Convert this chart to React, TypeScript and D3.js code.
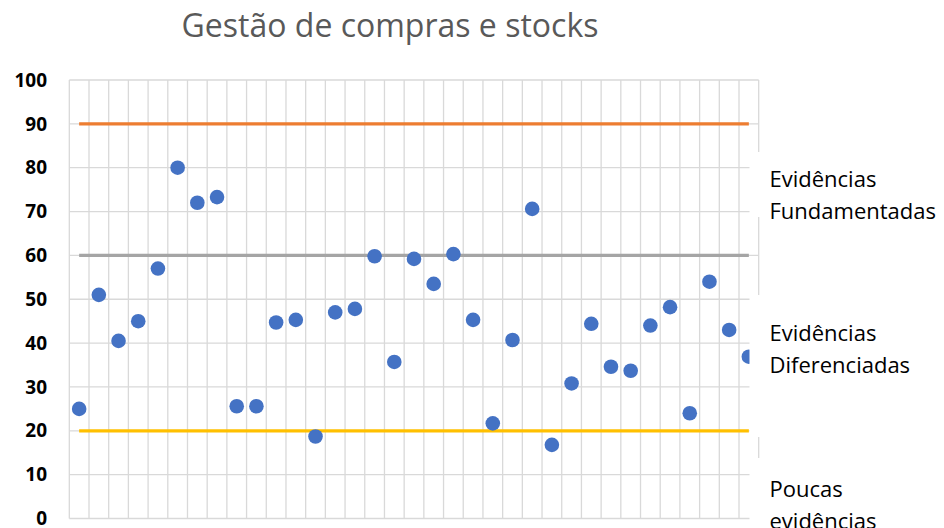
import React from "react";
import * as d3 from "d3";

const title = "Gestão de compras e stocks";
const scores = [
  25, 51, 40.5, 45, 57, 80, 72, 73.3, 25.6, 25.6, 44.7, 45.3, 18.7, 47, 47.8,
  59.8, 35.7, 59.2, 53.5, 60.3, 45.3, 21.7, 40.7, 70.6, 16.8, 30.8, 44.4, 34.6,
  33.7, 44, 48.2, 24, 54, 43, 36.9,
];
const categories = scores.map((_, i) => String(i + 1));
const thresholds = [
  { value: 90, color: "#ED7D31" },
  { value: 60, color: "#A5A5A5" },
  { value: 20, color: "#FFC000" },
];
const yTicks = [0, 10, 20, 30, 40, 50, 60, 70, 80, 90, 100];
const zoneLabels = [
  { lines: ["Evidências", "Fundamentadas"], top: 152, bottom: 217, baseline: 187.3 },
  { lines: ["Evidências", "Diferenciadas"], top: 295, bottom: 437, baseline: 341.3 },
  { lines: ["Poucas", "evidências"], top: 458, bottom: 540, baseline: 497 },
];

export default function App() {
  const W = 944;
  const H = 528;
  const left = 69.3;
  const right = 758.7;
  const top = 80;
  const bottom = 518.5;

  const x = d3.scaleBand<string>().domain(categories).range([left, right]).padding(0);
  const y = d3.scaleLinear().domain([0, 100]).range([bottom, top]);
  const cx = (i: number) => (x(categories[i]) as number) + x.bandwidth() / 2;
  const vLines = [...categories.map((c) => x(c) as number), right];
  const grid = "#D9D9D9";
  const font = "'Open Sans', 'Noto Sans', sans-serif";

  return (
    <svg
      width={W}
      height={H}
      style={{ position: "absolute", left: 0, top: 0, background: "#fff" }}
    >
      <rect x={0} y={0} width={W} height={H} fill="#fff" />
      <text
        x={390}
        y={37}
        textAnchor="middle"
        fontFamily={font}
        fontSize={32}
        fill="#595959"
      >
        {title}
      </text>
      {yTicks.map((t) => (
        <line key={"h" + t} x1={left} x2={right} y1={y(t)} y2={y(t)} stroke={grid} strokeWidth={1.3} />
      ))}
      {vLines.map((vx, i) => (
        <line key={"v" + i} x1={vx} x2={vx} y1={top} y2={bottom} stroke={grid} strokeWidth={1.3} />
      ))}
      {yTicks.map((t) => (
        <text
          key={"t" + t}
          x={47}
          y={y(t)}
          dy="0.35em"
          textAnchor="end"
          fontFamily={font}
          fontWeight={700}
          fontSize={19}
          fill="#000"
        >
          {t}
        </text>
      ))}
      {thresholds.map((th) => (
        <line
          key={"th" + th.value}
          x1={cx(0)}
          x2={cx(categories.length - 1)}
          y1={y(th.value)}
          y2={y(th.value)}
          stroke={th.color}
          strokeWidth={3.3}
        />
      ))}
      {scores.map((v, i) => (
        <circle key={"p" + i} cx={cx(i)} cy={y(v)} r={7.3} fill="#4472C4" />
      ))}
      {zoneLabels.map((z, i) => (
        <g key={"z" + i}>
          <rect x={749.5} y={z.top} width={W - 749.5} height={z.bottom - z.top} fill="#fff" />
          {z.lines.map((l, j) => (
            <text
              key={j}
              x={769.5}
              y={z.baseline + j * 31.6}
              fontFamily={font}
              fontSize={22}
              fill="#000"
            >
              {l}
            </text>
          ))}
        </g>
      ))}
    </svg>
  );
}
